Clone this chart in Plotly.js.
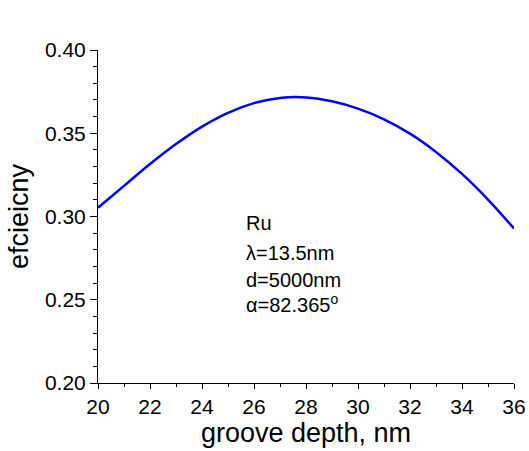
<!DOCTYPE html>
<html>
<head>
<meta charset="utf-8">
<script src="https://cdn.plot.ly/plotly-3.0.1.min.js"></script>
<style>html,body{margin:0;padding:0;background:#fff;}</style>
</head>
<body>
<div id="chart" style="width:529px;height:451px;"></div>
<script>
// groove depth (nm)
const depth = [20, 21, 22, 23, 24, 25, 26, 27, 28, 29, 30, 31, 32, 33, 34, 35, 36];
// diffraction efficiency
const efficiency = [0.3053, 0.3184, 0.3315, 0.3435, 0.3540, 0.3623, 0.3681, 0.3712, 0.3715,
                    0.3692, 0.3648, 0.3584, 0.3498, 0.3388, 0.3256, 0.3102, 0.2928];
const xTicks = [20, 22, 24, 26, 28, 30, 32, 34, 36];
const yTicks = [0.20, 0.25, 0.30, 0.35, 0.40];
const infoLines = ["Ru", "λ=13.5nm", "d=5000nm", "α=82.365<sup>o</sup>"];

const FONT = "'Liberation Sans', Arial, Helvetica, sans-serif";

const trace = {
  x: depth, y: efficiency, type: 'scatter', mode: 'lines',
  line: {color: '#0000ff', width: 2.5, shape: 'spline', smoothing: 1},
  hoverinfo: 'skip'
};

const infoY = [0.2882, 0.2702, 0.2543, 0.2391];
const annotations = infoLines.map((t, i) => ({
  text: t, x: 25.6, y: infoY[i], xref: 'x', yref: 'y',
  xanchor: 'left', yanchor: 'bottom', showarrow: false,
  font: {family: FONT, size: 20, color: '#000'}
}));

const layout = {
  width: 529, height: 451,
  margin: {l: 98, r: 15, t: 50, b: 68},
  paper_bgcolor: '#fff', plot_bgcolor: '#fff',
  showlegend: false,
  font: {family: FONT, color: '#000'},
  xaxis: {
    range: [20, 36], tickvals: xTicks, ticktext: xTicks.map(String),
    showgrid: false, zeroline: false, showline: true, linecolor: '#000', linewidth: 1,
    ticks: 'outside', ticklen: 5, tickwidth: 1, tickcolor: '#000',
    minor: {dtick: 1, ticks: 'outside', ticklen: 3, tickwidth: 1, tickcolor: '#000', showgrid: false},
    tickfont: {family: FONT, size: 21, color: '#000'},
    title: {text: 'groove depth, nm', font: {family: FONT, size: 27, color: '#000'}, standoff: 2},
    automargin: false
  },
  yaxis: {
    range: [0.2, 0.4], tickvals: yTicks, ticktext: yTicks.map(v => v.toFixed(2)),
    showgrid: false, zeroline: false, showline: true, linecolor: '#000', linewidth: 1,
    ticks: 'outside', ticklen: 7, tickwidth: 1, tickcolor: '#000',
    minor: {dtick: 0.01, ticks: 'outside', ticklen: 4, tickwidth: 1, tickcolor: '#000', showgrid: false},
    tickfont: {family: FONT, size: 21, color: '#000'},
    title: {text: 'efcieicny', font: {family: FONT, size: 27, color: '#000'}, standoff: 8},
    automargin: false
  },
  annotations: annotations
};

Plotly.newPlot('chart', [trace], layout, {displayModeBar: false, staticPlot: true});
</script>
</body>
</html>
